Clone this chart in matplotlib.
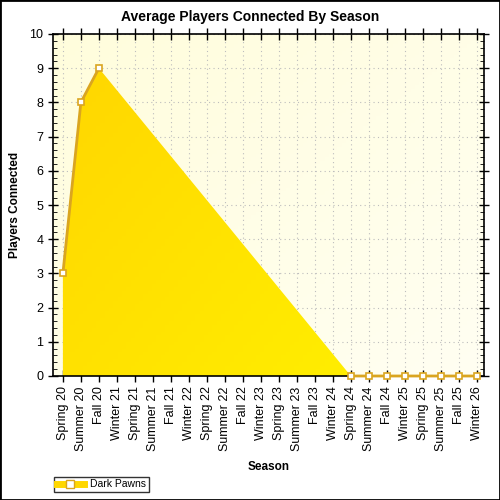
import numpy as np
import matplotlib
matplotlib.use('Agg')
import matplotlib.pyplot as plt
from matplotlib.colors import LinearSegmentedColormap
from matplotlib.lines import Line2D
from matplotlib.patches import Polygon, Rectangle

plt.rcParams['font.family'] = ['Liberation Sans', 'DejaVu Sans']

seasons = ['Spring 20', 'Summer 20', 'Fall 20', 'Winter 21', 'Spring 21', 'Summer 21',
           'Fall 21', 'Winter 22', 'Spring 22', 'Summer 22', 'Fall 22', 'Winter 23',
           'Spring 23', 'Summer 23', 'Fall 23', 'Winter 24', 'Spring 24', 'Summer 24',
           'Fall 24', 'Winter 25', 'Spring 25', 'Summer 25', 'Fall 25', 'Winter 26']
# None = no data for that season (the area spans the gap, the line does not)
players = [3, 8, 9, None, None, None, None, None, None, None, None, None,
           None, None, None, None, 0, 0, 0, 0, 0, 0, 0, 0]
series_name = 'Dark Pawns'

x_all = np.arange(len(seasons), dtype=float)
y_all = np.array([np.nan if v is None else v for v in players], dtype=float)
known = ~np.isnan(y_all)
xs, ys = x_all[known], y_all[known]

fig = plt.figure(figsize=(5, 5), dpi=100)
ax = fig.add_axes([0.106, 0.248, 0.862, 0.684])
xmin, xmax = -0.55, 23.4
ax.set_xlim(xmin, xmax)
ax.set_ylim(0, 10)

# light yellow background gradient
bg = LinearSegmentedColormap.from_list('bg', ['#FFFDDC', '#FFFFF2'])
gx, gy = np.meshgrid(np.linspace(0, 1, 100), np.linspace(0, 1, 100))
ax.imshow((gx + (1 - gy)) / 2, extent=[xmin, xmax, 0, 10], origin='lower',
          cmap=bg, aspect='auto', zorder=0)

ax.grid(True, color='#BDBDBD', linestyle=(0, (1, 3)), linewidth=0.8, zorder=1)
ax.set_axisbelow(True)

# gradient area fill (gold top-left -> yellow bottom-right), clipped to the area
fill_cmap = LinearSegmentedColormap.from_list('fill', ['#FFD500', '#FFF300'])
poly = Polygon(np.column_stack([np.r_[xs[0], xs, xs[-1]], np.r_[0, ys, 0]]),
               closed=True, facecolor='none', edgecolor='none')
ax.add_patch(poly)
im = ax.imshow(0.6 * gx + 0.4 * (1 - gy), extent=[xmin, xmax, 0, 10], origin='lower',
               cmap=fill_cmap, aspect='auto', zorder=2)
im.set_clip_path(poly)

ax.plot(x_all, y_all, color='#DAA520', linewidth=2, zorder=3, clip_on=False)
ax.plot(xs, ys, linestyle='none', marker='s', markersize=5,
        markerfacecolor='white', markeredgecolor='#DAA520', markeredgewidth=1.2,
        zorder=4, clip_on=False)

ax.set_xticks(range(len(seasons)))
ax.set_xticklabels(seasons, rotation=90, fontsize=9)
ax.set_yticks(range(0, 11))
ax.set_yticks(np.arange(0, 10.01, 0.2), minor=True)
ax.tick_params(axis='y', which='major', direction='inout', length=7, labelsize=9,
               right=True, width=1)
ax.tick_params(axis='y', which='minor', direction='in', length=3, right=True)
ax.tick_params(axis='x', which='major', direction='inout', length=8, top=True, width=1)
for s in ax.spines.values():
    s.set_linewidth(1.2)

ax.set_xlabel('Season', fontsize=8.5, fontweight='bold', labelpad=7)
ax.set_ylabel('Players Connected', fontsize=8.5, fontweight='bold', labelpad=6)
fig.text(0.5, 0.966, 'Average Players Connected By Season', ha='center', va='center',
         fontsize=10, fontweight='bold')

handle = Line2D([], [], color='#FFD700', linewidth=5, marker='s', markersize=6,
                markerfacecolor='white', markeredgecolor='#DAA520')
fig.legend(handles=[handle], labels=[series_name], loc='lower left',
           bbox_to_anchor=(0.108, 0.016), fontsize=7.5, frameon=True, fancybox=False,
           edgecolor='black', handlelength=2.6, handletextpad=0.6, borderpad=0.25,
           borderaxespad=0).get_frame().set_linewidth(1)

fig.add_artist(Rectangle((0, 0), 1, 1, transform=fig.transFigure, fill=False,
                         edgecolor='black', linewidth=2))

fig.savefig('out.png', dpi=100)
